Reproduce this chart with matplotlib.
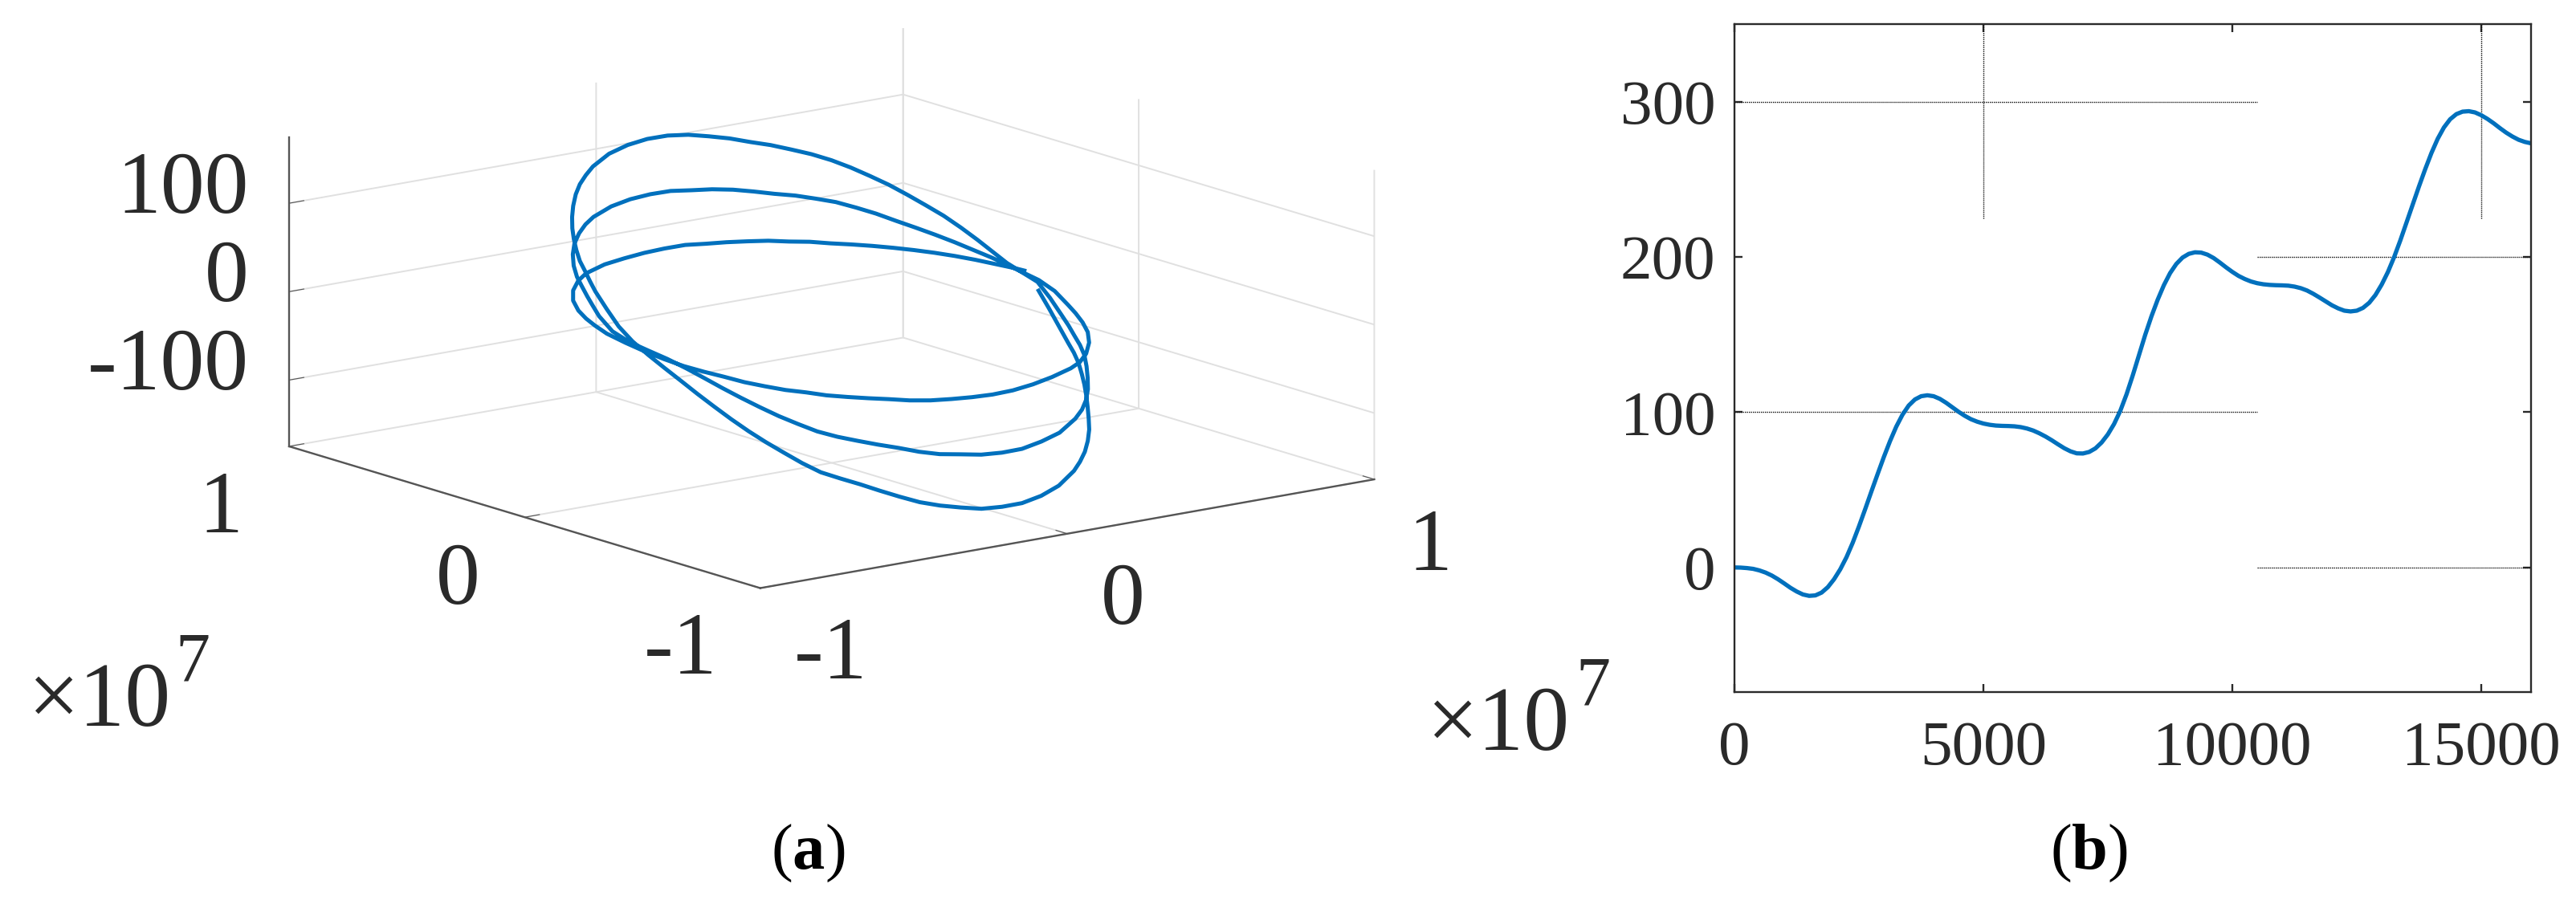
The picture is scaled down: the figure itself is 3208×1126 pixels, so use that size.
import numpy as np
import matplotlib
matplotlib.use('Agg')
import matplotlib.pyplot as plt

W, H = 3208, 1126
plt.rcParams['font.family'] = ['Liberation Serif', 'DejaVu Serif']
plt.rcParams['mathtext.fontset'] = 'custom'
plt.rcParams['mathtext.rm'] = 'Liberation Serif'
plt.rcParams['mathtext.bf'] = 'Liberation Serif:bold'

# panel (a), three turns of the orbit, x and y in thousandths of the 1e7 unit
orbit_x = [664, 662, 655, 643, 633, 620, 606, 593, 580, 566, 547, 538, 482, 444, 402, 358, 274, 193, 116, 44, -24, -88, -147, -202,
           -254, -302, -347, -390, -430, -466, -499, -530, -557, -583, -605, -625, -642, -655, -665, -671, -670, -665, -654, -645, -633, -617, -597, -576,
           -554, -544, -496, -460, -419, -375, -331, -248, -168, -93, -22, 44, 106, 164, 218, 269, 317, 363, 405, 443, 479, 512, 542, 569,
           594, 615, 632, 646, 655, 661, 657, 648, 638, 625, 607, 583, 560, 543, 533, 475, 424, 372, 281, 196, 118, 45, -23, -87,
           -147, -203, -255, -305, -351, -395, -436, -473, -507, -539, -568, -594, -617, -636, -653, -665, -670, -668, -658, -649, -638, -622, -598, -565,
           -544, -478, -429, -380, -331, -241, -159, -84, -14, 52, 113, 171, 225, 276, 325, 370, 412, 452, 488, 522, 552, 580, 605, 626,
           642, 651, 664, 658, 644, 628, 604, 567, 540, 459, 399, 339, 241, 158, 82, 12, -54, -115, -173, -228, -280, -328, -374, -418,
           -458, -496, -531, -563, -592, -617, -638, -655, -666, -671, -665, -652, -635, -608, -563, -500, -436, -375, -270, -182, -104, -33, 34, 96,
           155, 210, 263, 312, 359, 403, 444, 483, 519, 552, 582, 608, 630, 648, 660, 663]
orbit_y = [-13, -59, -111, -167, -203, -240, -272, -300, -325, -349, -378, -392, -459, -496, -530, -562, -607, -638, -657, -666, -667, -662, -652, -637,
           -619, -597, -573, -544, -514, -482, -448, -411, -373, -333, -290, -245, -197, -145, -88, -29, 31, 89, 151, 185, 222, 265, 306, 344,
           379, 393, 451, 487, 523, 555, 582, 622, 647, 662, 668, 666, 659, 647, 630, 610, 586, 559, 529, 497, 462, 425, 385, 343,
           299, 253, 205, 156, 110, -12, -70, -131, -174, -215, -263, -313, -352, -379, -393, -461, -510, -549, -601, -635, -654, -664, -665, -661,
           -650, -636, -617, -594, -568, -539, -507, -473, -437, -397, -355, -310, -262, -210, -153, -87, -15, 60, 130, 168, 206, 250, 302, 359,
           390, 469, 513, 550, 580, 622, 648, 661, 666, 663, 655, 642, 625, 603, 578, 550, 519, 485, 448, 408, 364, 317, 267, 212,
           156, 112, -14, -89, -165, -217, -278, -348, -389, -482, -533, -573, -621, -648, -662, -667, -666, -658, -645, -628, -608, -583, -555, -523,
           -488, -450, -408, -363, -314, -262, -204, -142, -74, 1, 88, 156, 215, 283, 364, 446, 508, 554, 612, 643, 660, 667, 666, 660,
           649, 632, 612, 588, 561, 530, 496, 458, 416, 371, 322, 269, 211, 148, 80, 46]
orbit_z = [-20, -36, -52, -66, -73, -81, -90, -99, -109, -119, -128, -139, -143, -150, -156, -161, -169, -173, -175, -174, -172, -167, -162, -156,
           -148, -140, -132, -125, -118, -108, -97, -86, -75, -63, -51, -39, -27, -16, -5, 6, 18, 33, 47, 55, 63, 70, 78, 86,
           94, 105, 110, 118, 124, 129, 134, 140, 143, 144, 143, 140, 135, 130, 124, 119, 113, 107, 100, 92, 83, 74, 64, 54,
           44, 33, 22, 11, 2, -10, -23, -37, -45, -52, -58, -64, -72, -82, -93, -96, -100, -104, -110, -112, -114, -113, -111, -107,
           -104, -99, -93, -88, -83, -78, -72, -64, -56, -47, -38, -29, -20, -12, -5, 0, 4, 10, 21, 29, 36, 43, 48, 54,
           63, 65, 70, 74, 77, 80, 81, 81, 80, 77, 75, 72, 68, 64, 61, 57, 53, 47, 41, 34, 28, 22, 16, 10,
           5, 1, -8, -14, -23, -27, -31, -34, -41, -41, -43, -43, -43, -44, -45, -45, -44, -43, -42, -40, -37, -35, -33, -31,
           -28, -26, -23, -20, -16, -13, -10, -6, -2, 2, 5, 8, 10, 12, 14, 15, 17, 18, 17, 16, 16, 16, 16, 14,
           13, 12, 11, 9, 8, 6, 5, 4, 3, 2, 1, 0, -1, -2, -2, -2]

# panel (b)
time_s = list(range(0, 16001, 125))
height = [0.0, -0.1, -0.4, -0.9, -1.9, -3.3, -5.2, -7.6, -10.3, -13.1, -15.5, -17.4, -18.3, -18.0, -16.2, -12.7, -7.6, -1.2, 6.6, 15.9,
          26.4, 37.5, 48.9, 60.1, 71.1, 81.4, 90.7, 98.4, 104.3, 108.2, 110.3, 110.9, 110.3, 108.6, 106.1, 103.2, 100.3, 97.7, 95.5, 93.9,
          92.7, 91.9, 91.4, 91.2, 91.1, 90.9, 90.4, 89.5, 88.2, 86.4, 84.3, 81.9, 79.3, 76.8, 74.8, 73.5, 73.4, 74.4, 76.7, 80.5,
          85.7, 92.4, 100.9, 111.5, 123.7, 136.8, 149.8, 161.7, 172.4, 181.8, 189.6, 195.5, 199.6, 202.0, 203.0, 202.8, 201.5, 199.3, 196.4, 193.3,
          190.4, 187.8, 185.8, 184.2, 183.1, 182.4, 182.0, 181.8, 181.7, 181.5, 180.9, 179.9, 178.4, 176.3, 173.9, 171.4, 168.9, 166.9, 165.4, 164.9,
          165.4, 167.2, 170.5, 175.5, 182.2, 190.3, 199.9, 210.7, 222.3, 234.0, 245.5, 256.6, 267.0, 276.1, 283.4, 288.7, 292.0, 293.6, 293.9, 293.1,
          291.3, 288.9, 286.1, 283.0, 280.1, 277.6, 275.5, 274.1, 273.2]

BLUE = '#0070BD'
TXT = '#2a2a2a'

fig = plt.figure(figsize=(W / 100, H / 100), dpi=100)


def px(x, y):
    return x / W, 1 - y / H


# 3d axes, stretched to the wide box of the original, so no square aspect here
ax = fig.add_axes([159.75 / W, 1 - 788.3 / H, 1752 / W, 809 / H], projection='3d', proj_type='ortho')
ax.apply_aspect = lambda position=None: None
ax.viewLim.intervalx = (-0.1, 0.1)
ax.viewLim.intervaly = (-0.1, 0.1)
ax.view_init(elev=30, azim=-127.5)
ax.set_box_aspect((1, 1, 1))
ax.set_xlim(-1, 1, view_margin=0)
ax.set_ylim(-1, 1, view_margin=0)
ax.set_zlim(-175, 175, view_margin=0)
ax.patch.set_alpha(0)
ax.set_xticks([-1, 0, 1])
ax.set_yticks([-1, 0, 1])
ax.set_zticks([-100, 0, 100])
ax.set_xticklabels([])
ax.set_yticklabels([])
ax.set_zticklabels([])
for axis in (ax.xaxis, ax.yaxis, ax.zaxis):
    axis.set_pane_color((1, 1, 1, 0))
    axis.pane.set_edgecolor((1, 1, 1, 0))
    axis._axinfo['grid'].update(color='#e0e0e0', linewidth=1.4)
    axis._axinfo['tick'].update(inward_factor=0, outward_factor=0.3)
    axis.line.set_color('#555555')
    axis.line.set_linewidth(1.7)
ax.tick_params(color='#555555', width=1.4)
ax.plot(np.array(orbit_x) / 1000, np.array(orbit_y) / 1000, orbit_z, color=BLUE, lw=3.6, solid_joinstyle='round')

# tick labels of the 3d axes, placed by hand like in the original
for lab, x, y in [('100', 310, 265), ('0', 310, 375), ('-100', 310, 485), ('1', 302, 663), ('0', 598, 752),
                  ('-1', 893, 839), ('-1', 1080, 845), ('0', 1426, 777), ('1', 1808, 710)]:
    fig.text(*px(x, y), lab, fontsize=79, ha='right', va='baseline', color=TXT)
for x, y, x7, y7 in [(35, 904, 218, 848), (1777, 934, 1962, 878)]:
    fig.text(*px(x, y), '\u00d710', fontsize=82, ha='left', va='baseline', color=TXT)
    fig.text(*px(x7, y7), '7', fontsize=62, ha='left', va='baseline', color=TXT)
fig.text(*px(1006, 1082), r'($\mathbf{a}$)', fontsize=58, ha='center', va='baseline', color='black')
fig.text(*px(2601, 1082), r'($\mathbf{b}$)', fontsize=58, ha='center', va='baseline', color='black')

bx = fig.add_axes([2160 / W, 1 - 861.5 / H, 992 / W, 831.5 / H])
# the grid of this panel is only partly there
bx.hlines([100, 300], 0, 10500, color='#111111', lw=1.0, ls=(0, (1, 0.8)))
bx.hlines([0, 200], 10500, 16000, color='#111111', lw=1.0, ls=(0, (1, 0.8)))
bx.vlines([5000, 15000], 225, 350, color='#111111', lw=1.0, ls=(0, (1, 0.8)))
bx.plot(time_s, height, color=BLUE, lw=3.8, solid_joinstyle='round')
bx.set_xlim(0, 16000)
bx.set_ylim(-80, 350)
bx.set_xticks([0, 5000, 10000, 15000])
bx.set_yticks([0, 100, 200, 300])
bx.tick_params(direction='in', top=True, right=True, length=7.5, width=1.7, color=TXT,
               labelsize=57, labelcolor=TXT)
bx.tick_params(axis='x', pad=26)
bx.tick_params(axis='y', pad=17)
for s in bx.spines.values():
    s.set_linewidth(1.7)
    s.set_color(TXT)

fig.savefig('out.png', dpi=100)
